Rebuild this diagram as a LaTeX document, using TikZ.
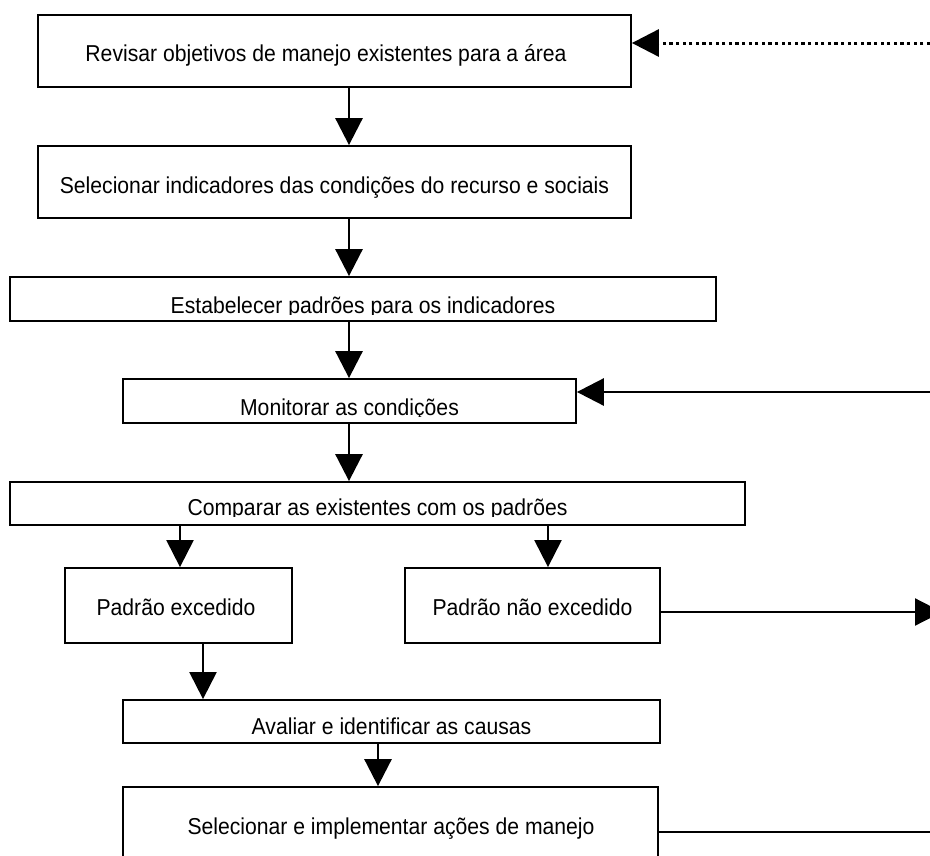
\documentclass[tikz,border=0pt]{standalone}
\usepackage{fontspec}
\setmainfont{Liberation Sans}[FakeStretch=0.92]
\usetikzlibrary{arrows.meta}
\begin{document}
\begin{tikzpicture}[x=1pt,y=-1pt,
  box/.style={draw=black, line width=1.8pt, rectangle, inner sep=0pt, fill=white},
  lbl/.style={anchor=base, inner sep=0pt, font=\fontsize{23}{27}\selectfont},
  arr/.style={line width=2.8pt, -{Triangle[length=27pt,width=27pt]}},
  thinarr/.style={line width=2.2pt, -{Triangle[length=27pt,width=27pt]}},
  plainline/.style={line width=2pt},
  dotarr/.style={line width=3pt, dash pattern=on 3.3pt off 3.3pt, -{Triangle[length=27pt,width=27pt]}}
]
\useasboundingbox (0,0) rectangle (930,855);
\clip (0,0) rectangle (930,855);

% boxes
\node[box, minimum width=593pt, minimum height=72pt] (b1) at (334.5,51) {};
\node[box, minimum width=593pt, minimum height=72pt] (b2) at (334.5,182) {};
\node[box, minimum width=706pt, minimum height=44pt] (b3) at (363,299) {};
\node[box, minimum width=453pt, minimum height=44pt] (b4) at (349.5,401) {};
\node[box, minimum width=735pt, minimum height=43pt] (b5) at (377.5,503.5) {};
\node[box, minimum width=227pt, minimum height=75pt] (b6a) at (178.5,605.5) {};
\node[box, minimum width=255pt, minimum height=75pt] (b6b) at (532.5,605.5) {};
\node[box, minimum width=537pt, minimum height=43pt] (b7) at (391.5,721.5) {};
\node[box, minimum width=535pt, minimum height=88pt] (b8) at (390.5,831) {};

% labels
\node[lbl] (t1) at (326,61) {Revisar objetivos de manejo existentes para a área};
\node[lbl] (t2) at (334.5,193) {Selecionar indicadores das condições do recurso e sociais};
\begin{scope}
  \clip (0,270) rectangle (930,314);
  \node[lbl] (t3) at (363,313) {Estabelecer padrões para os indicadores};
\end{scope}
\begin{scope}
  \clip (0,370) rectangle (930,416);
  \node[lbl] (t4) at (349.5,415) {Monitorar as condições};
\end{scope}
\begin{scope}
  \clip (0,475) rectangle (930,516);
  \node[lbl] (t5) at (377.5,515) {Comparar as existentes com os padrões};
\end{scope}
\node[lbl] (t6a) at (176,615) {Padrão excedido};
\node[lbl] (t6b) at (532.5,615) {Padrão não excedido};
\node[lbl] (t7) at (391.5,734) {Avaliar e identificar as causas};
\node[lbl] (t8) at (391,834) {Selecionar e implementar ações de manejo};

% columns and free ends
\coordinate (cx) at (349,0);
\coordinate (c6a) at (180,0);
\coordinate (c6b) at (548,0);
\coordinate (c7) at (203,0);
\coordinate (c8) at (378,0);
\coordinate (e1) at (930,43);
\coordinate (e4) at (930,392);
\coordinate (e6) at (942,612);
\coordinate (e8) at (930,832);

% connectors
\draw[arr] (b1.south -| cx) -- (b2.north -| cx);
\draw[arr] (b2.south -| cx) -- (b3.north -| cx);
\draw[arr] (b3.south -| cx) -- (b4.north -| cx);
\draw[arr] (b4.south -| cx) -- (b5.north -| cx);
\draw[thinarr] (b5.south -| c6a) -- (b6a.north -| c6a);
\draw[thinarr] (b5.south -| c6b) -- (b6b.north -| c6b);
\draw[thinarr] (b6a.south -| c7) -- (b7.north -| c7);
\draw[arr] (b7.south -| c8) -- (b8.north -| c8);
\draw[dotarr] (e1) -- (b1.east |- e1);
\draw[arr] (e4) -- (b4.east |- e4);
\draw[thinarr] (b6b.east |- e6) -- (e6);
\draw[plainline] (b8.east |- e8) -- (e8);
\end{tikzpicture}
\end{document}
